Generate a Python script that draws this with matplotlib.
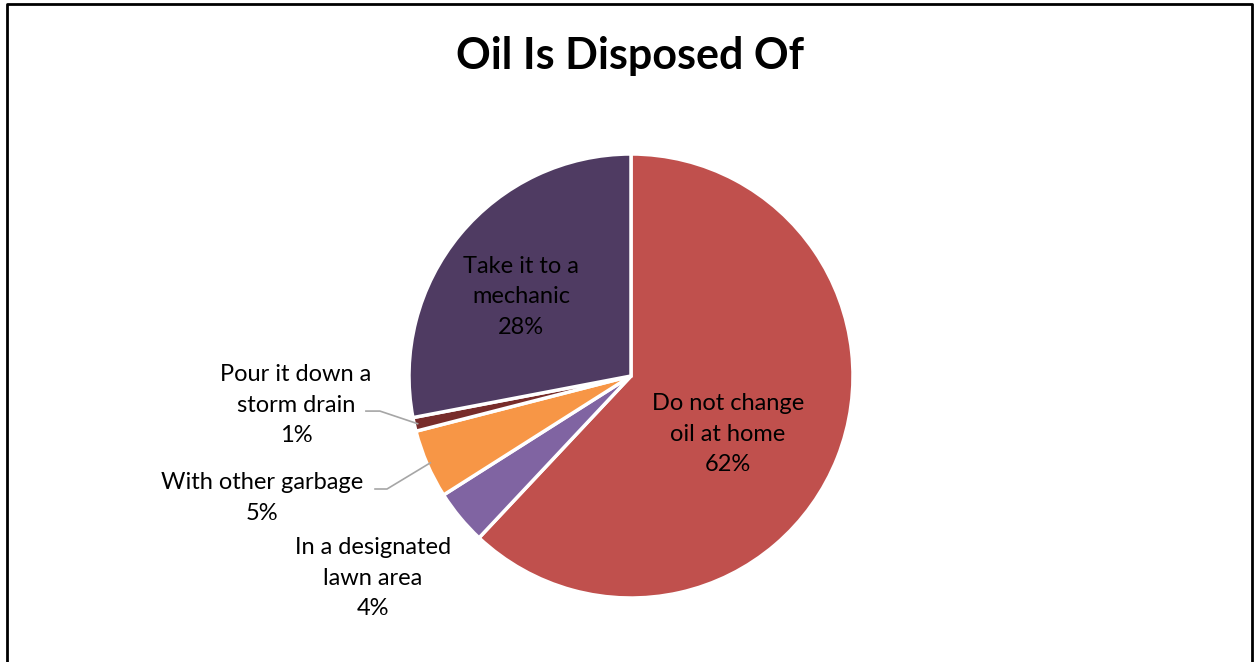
import numpy as np
import matplotlib.pyplot as plt
from matplotlib.lines import Line2D

# slices go clockwise from 12 o'clock
labels = ['Do not change\noil at home', 'In a designated\nlawn area', 'With other garbage',
          'Pour it down a\nstorm drain', 'Take it to a\nmechanic']
shares = [62, 4, 5, 1, 28]
colors = ['#C0504D', '#8064A2', '#F79646', '#772C2A', '#4F3B62']

# where each label sits, in units of the pie radius
label_xy = [(0.437, -0.262), (-1.162, -0.910), (-1.662, -0.550),
            (-1.509, -0.131), (-0.495, 0.356)]

plt.rcParams['font.family'] = ['Lato', 'DejaVu Sans']

W, H = 1255, 662
fig = plt.figure(figsize=(W / 100, H / 100), dpi=100)
cx, cy, R = 631, 376, 222
ax = fig.add_axes([(cx - R) / W, (H - cy - R) / H, 2 * R / W, 2 * R / H])

wedges, _ = ax.pie(shares, colors=colors, startangle=90, counterclock=False,
                   radius=1, wedgeprops=dict(edgecolor='white', linewidth=2.5))
ax.set_xlim(-1, 1)
ax.set_ylim(-1, 1)
ax.set_aspect('equal')
ax.axis('off')

for lab, val, (x, y) in zip(labels, shares, label_xy):
    ax.text(x, y, f'{lab}\n{val}%', ha='center', va='center', fontsize=17,
            linespacing=1.55, color='#000000', clip_on=False)

# leader lines for the two thin outside slices
for i, (tx, ty), knee in [(3, (-1.194, -0.158), -1.131), (2, (-1.153, -0.509), -1.099)]:
    w = wedges[i]
    mid = np.deg2rad((w.theta1 + w.theta2) / 2)
    px, py = 0.985 * np.cos(mid), 0.985 * np.sin(mid)
    ax.plot([tx, knee, px], [ty, ty, py], color='#A6A6A6', lw=1.2, clip_on=False)

fig.text(630 / W, 1 - 56 / H, 'Oil Is Disposed Of', ha='center', va='center',
         fontsize=31, fontweight='bold')

# chart frame (left, top, right)
fig.add_artist(Line2D([7 / W, 7 / W, 1252 / W, 1252 / W],
                      [0, 1 - 4 / H, 1 - 4 / H, 0],
                      transform=fig.transFigure, color='black', lw=2))

fig.savefig('out.png', dpi=100)
